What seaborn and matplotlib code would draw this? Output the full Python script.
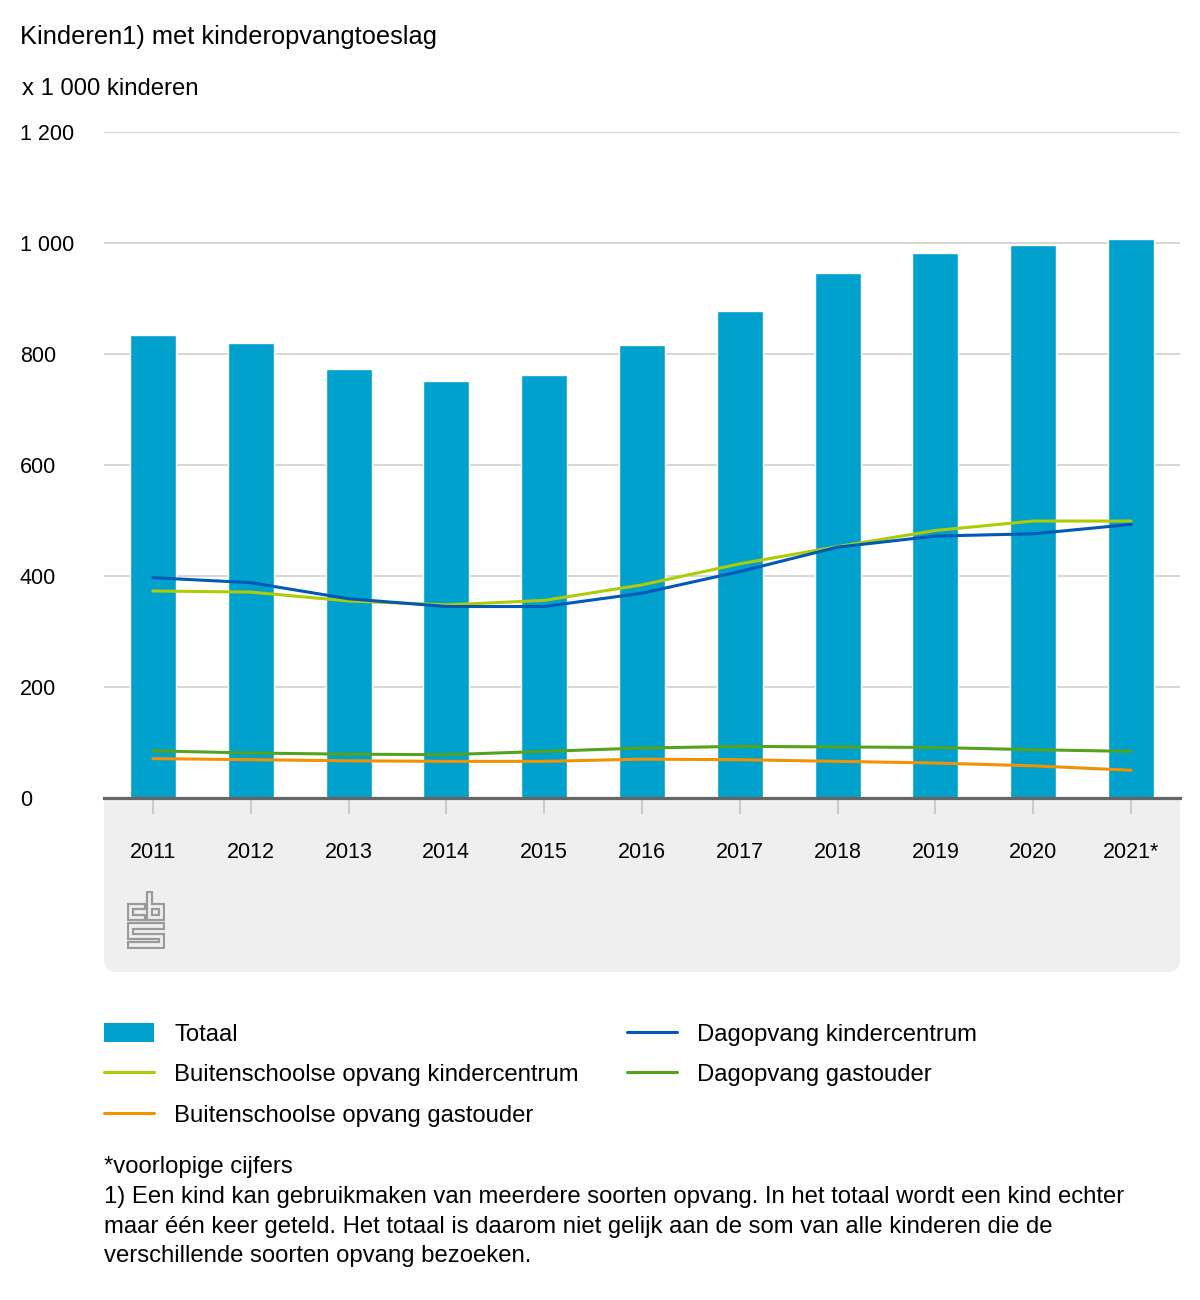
import numpy as np
import pandas as pd
import seaborn as sns
import matplotlib.pyplot as plt
from matplotlib.patches import FancyBboxPatch, Patch
from matplotlib.lines import Line2D

# data (x 1 000 kinderen)
years = ["2011", "2012", "2013", "2014", "2015", "2016", "2017", "2018", "2019", "2020", "2021*"]
totaal = [834, 819, 773, 751, 762, 816, 877, 946, 982, 996, 1007]
bso_kindercentrum = [373, 371, 355, 348, 356, 384, 422, 453, 482, 499, 499]
bso_gastouder = [71, 69, 67, 66, 66, 70, 69, 66, 63, 58, 50]
dag_kindercentrum = [397, 388, 359, 345, 345, 369, 408, 452, 472, 476, 493]
dag_gastouder = [85, 81, 79, 78, 84, 90, 93, 92, 91, 87, 84]
y_ticks = [0, 200, 400, 600, 800, 1000, 1200]
y_labels = ["0", "200", "400", "600", "800", "1 000", "1 200"]

c_tot = "#00a1cd"
c_bso_kc = "#afcb05"
c_bso_go = "#f39200"
c_dag_kc = "#0058b8"
c_dag_go = "#53a31d"

sns.set_theme(style="white")
plt.rcParams["font.family"] = ["Liberation Sans", "DejaVu Sans"]
plt.rcParams["text.color"] = "black"

W, H = 1200, 1300
fig = plt.figure(figsize=(W / 100, H / 100), dpi=100)
fig.patch.set_facecolor("white")

def fx(px):
    return px / W

def fy(py):
    return 1 - py / H

ax = fig.add_axes([fx(104), fy(798), fx(1180) - fx(104), fy(132) - fy(798)])
ax.set_facecolor("white")

# grey panel under the x axis
panel = FancyBboxPatch((fx(104), fy(972)), fx(1180) - fx(104), fy(700) - fy(972),
                       boxstyle="round,pad=0,rounding_size=0.01",
                       transform=fig.transFigure, facecolor="#efefef",
                       edgecolor="none", zorder=-1)
fig.patches.append(panel)

df = pd.DataFrame({"jaar": years, "totaal": totaal})
sns.barplot(data=df, x="jaar", y="totaal", color=c_tot, width=0.47,
            saturation=1, edgecolor="white", linewidth=1, ax=ax, zorder=2)

pos = np.arange(len(years))
for vals, col in [(dag_gastouder, c_dag_go), (bso_gastouder, c_bso_go),
                  (bso_kindercentrum, c_bso_kc), (dag_kindercentrum, c_dag_kc)]:
    sns.lineplot(x=pos, y=vals, color=col, linewidth=2.2, ax=ax, zorder=3)

ax.set_xlim(-0.5, len(years) - 0.5)
ax.set_ylim(0, 1200)
ax.set_xlabel("")
ax.set_ylabel("")
ax.set_yticks(y_ticks)
ax.set_yticklabels(y_labels)
ax.yaxis.grid(True, color="#cccccc", linewidth=1.1, zorder=0)
ax.set_axisbelow(True)
for s in ["top", "right", "left"]:
    ax.spines[s].set_visible(False)
ax.spines["bottom"].set_color("#666666")
ax.spines["bottom"].set_linewidth(2.3)
ax.spines["bottom"].set_zorder(4)

ax.tick_params(axis="y", length=0, pad=60.5, labelsize=15.5, labelcolor="black")
for lab in ax.get_yticklabels():
    lab.set_horizontalalignment("left")
ax.tick_params(axis="x", length=11.5, width=1.5, color="#cccccc", pad=20,
               labelsize=15.5, labelcolor="black", bottom=True)

# titles
fig.text(fx(20), fy(37), "Kinderen1) met kinderopvangtoeslag", fontsize=18.3,
         va="center", ha="left", color="black")
fig.text(fx(22), fy(89), "x 1 000 kinderen", fontsize=17.2, va="center", ha="left",
         color="black")

# cbs logo (rough)
lax = fig.add_axes([fx(127), fy(949), fx(165) - fx(127), fy(891) - fy(949)])
lax.set_xlim(-1, 38)
lax.set_ylim(57, -1)
lax.axis("off")
g = "#9a9a9a"
lw = 1.6
paths = [
    [(17, 12), (0, 12), (0, 28), (17, 28), (17, 23), (5, 23), (5, 17), (17, 17), (17, 12)],
    [(20, 0), (25, 0), (25, 12), (37, 12), (37, 28), (20, 28), (20, 0)],
    [(25, 17), (32, 17), (32, 23), (25, 23), (25, 17)],
    [(0, 31), (37, 31), (37, 37), (5, 37), (5, 42), (37, 42), (37, 56), (0, 56),
     (0, 50), (32, 50), (32, 47), (0, 47), (0, 31)],
]
for p in paths:
    xs, ys = zip(*p)
    lax.plot(xs, ys, color=g, linewidth=lw, solid_joinstyle="miter")

# legend in two columns
h1 = [Patch(facecolor=c_tot, edgecolor="none"),
      Line2D([], [], color=c_bso_kc, linewidth=2.2),
      Line2D([], [], color=c_bso_go, linewidth=2.2)]
l1 = ["Totaal", "Buitenschoolse opvang kindercentrum", "Buitenschoolse opvang gastouder"]
h2 = [Line2D([], [], color=c_dag_kc, linewidth=2.2),
      Line2D([], [], color=c_dag_go, linewidth=2.2)]
l2 = ["Dagopvang kindercentrum", "Dagopvang gastouder"]
leg_kw = dict(loc="upper left", frameon=False, fontsize=17.2, handlelength=2.1,
              handleheight=0.85, handletextpad=0.84, labelspacing=0.74,
              borderaxespad=0, borderpad=0)
fig.legend(h1, l1, bbox_to_anchor=(fx(104), fy(1023)), **leg_kw)
fig.legend(h2, l2, bbox_to_anchor=(fx(627), fy(1023)), **leg_kw)

note = ("*voorlopige cijfers\n"
        "1) Een kind kan gebruikmaken van meerdere soorten opvang. In het totaal wordt een kind echter\n"
        "maar één keer geteld. Het totaal is daarom niet gelijk aan de som van alle kinderen die de\n"
        "verschillende soorten opvang bezoeken.")
fig.text(fx(104), fy(1156), note, fontsize=17.2, va="top", ha="left", linespacing=1.46)

fig.savefig("out.png", dpi=100)
